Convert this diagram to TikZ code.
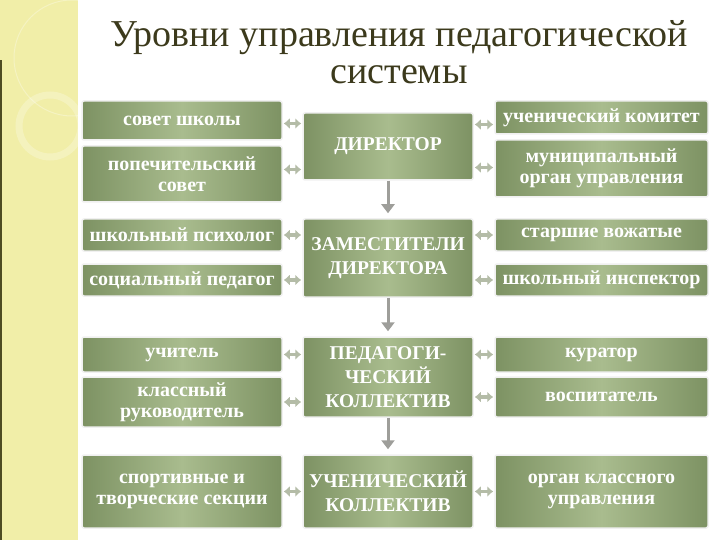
\documentclass[tikz,border=0pt]{standalone}
\usepackage{fontspec}
\setmainfont{Liberation Serif}
\usetikzlibrary{arrows.meta,positioning,calc}
\definecolor{slInk}{HTML}{3C3A1C}
\definecolor{slStrip}{HTML}{F1EEA8}
\definecolor{slEdge}{HTML}{4E4C22}
\definecolor{slBoxDark}{HTML}{7D9263}
\definecolor{slBoxLight}{HTML}{A9BC8E}
\definecolor{slLink}{HTML}{B4BCA7}
\definecolor{slDown}{HTML}{9E9E9A}
\tikzset{
  box/.style={rounded corners=2pt, left color=slBoxDark, right color=slBoxDark, middle color=slBoxLight, draw=black!6, line width=1.5pt, text=white, font=\bfseries\fontsize{20}{21}\selectfont, align=center, inner sep=2pt},
  sidebox/.style={box, minimum width=200pt},
  rightbox/.style={box, minimum width=213pt},
  corebox/.style={box, minimum width=170pt, font=\bfseries\fontsize{19.5}{24}\selectfont},
  link/.style={{Latex[length=6pt,width=11pt]}-{Latex[length=6pt,width=11pt]}, line width=3.5pt, draw=slLink, shorten <=1pt, shorten >=1pt},
  down/.style={-{Triangle[length=9pt,width=13pt]}, line width=3pt, draw=slDown, shorten >=5pt},
}
\begin{document}
\begin{tikzpicture}[x=1pt, y=-1pt]
  \useasboundingbox (0,0) rectangle (720,540);
  % left strip
  \fill[slStrip] (0,0) rectangle (78,540);
  \fill[slEdge] (0,60) rectangle (2,540);
  \begin{scope}
    \clip (0,0) rectangle (78,540);
    \draw[white, opacity=.3, line width=1pt] (72,58) circle (58);
    \draw[white, opacity=.25, line width=7pt] (50,126) circle (31);
  \end{scope}
  \node[font=\fontsize{38}{37}\selectfont, text=slInk, align=center] (title) at (399,52) {Уровни управления педагогической\\системы};
  % centre column
  \node[corebox, minimum height=67pt] (direktor) at (388,146.5) {ДИРЕКТОР};
  \node[corebox, minimum height=78pt] (zam) at (388,258) {ЗАМЕСТИТЕЛИ\\ДИРЕКТОРА};
  \node[corebox, minimum height=80pt] (pedkol) at (388,377) {ПЕДАГОГИ-\\ЧЕСКИЙ\\КОЛЛЕКТИВ};
  \node[corebox, minimum height=73pt] (uchkol) at (388,491.5) {УЧЕНИЧЕСКИЙ\\КОЛЛЕКТИВ};
  % left column
  \node[sidebox, minimum height=39pt] (sovet) at (182,120.5) {совет школы};
  \node[sidebox, minimum height=56pt] (popech) at (182,174) {попечительский\\совет};
  \node[sidebox, minimum height=32pt] (psych) at (182,235) {школьный психолог};
  \node[sidebox, minimum height=32pt] (socped) at (182,280) {социальный педагог};
  \node[sidebox, minimum height=35pt] (uchitel) at (182,354.5) {учитель};
  \node[sidebox, minimum height=50pt] (klruk) at (182,402) {классный\\руководитель};
  \node[sidebox, minimum height=73pt] (sport) at (182,491.5) {спортивные и\\творческие секции};
  % right column
  \node[rightbox, minimum height=33pt] (uchkom) at (601.5,117.5) {ученический комитет};
  \node[rightbox, minimum height=57pt] (munic) at (601.5,168.5) {муниципальный\\орган управления};
  \node[rightbox, minimum height=32pt] (vozh) at (601.5,235) {старшие вожатые};
  \node[rightbox, minimum height=32pt] (inspect) at (601.5,280) {школьный инспектор};
  \node[rightbox, minimum height=35pt] (kurator) at (601.5,354.5) {куратор};
  \node[rightbox, minimum height=40pt] (vospit) at (601.5,397) {воспитатель};
  \node[rightbox, minimum height=73pt] (organ) at (601.5,491.5) {орган классного\\управления};
  % links
  \foreach \s/\n in {23/sovet,-23/popech}
    \draw[link] ([yshift=\s pt]direktor.west) -- ([yshift=\s pt]direktor.west -| \n.east);
  \foreach \s/\n in {22/uchkom,-21/munic}
    \draw[link] ([yshift=\s pt]direktor.east) -- ([yshift=\s pt]direktor.east -| \n.west);
  \foreach \n/\c in {psych/zam,socped/zam,uchitel/pedkol,klruk/pedkol,sport/uchkol}
    \draw[link] (\n) -- (\n -| \c.west);
  \foreach \n/\c in {vozh/zam,inspect/zam,kurator/pedkol,vospit/pedkol,organ/uchkol}
    \draw[link] (\n) -- (\n -| \c.east);
  \draw[down] (direktor) -- (zam);
  \draw[down] (zam) -- (pedkol);
  \draw[down] (pedkol) -- (uchkol);
\end{tikzpicture}
\end{document}
